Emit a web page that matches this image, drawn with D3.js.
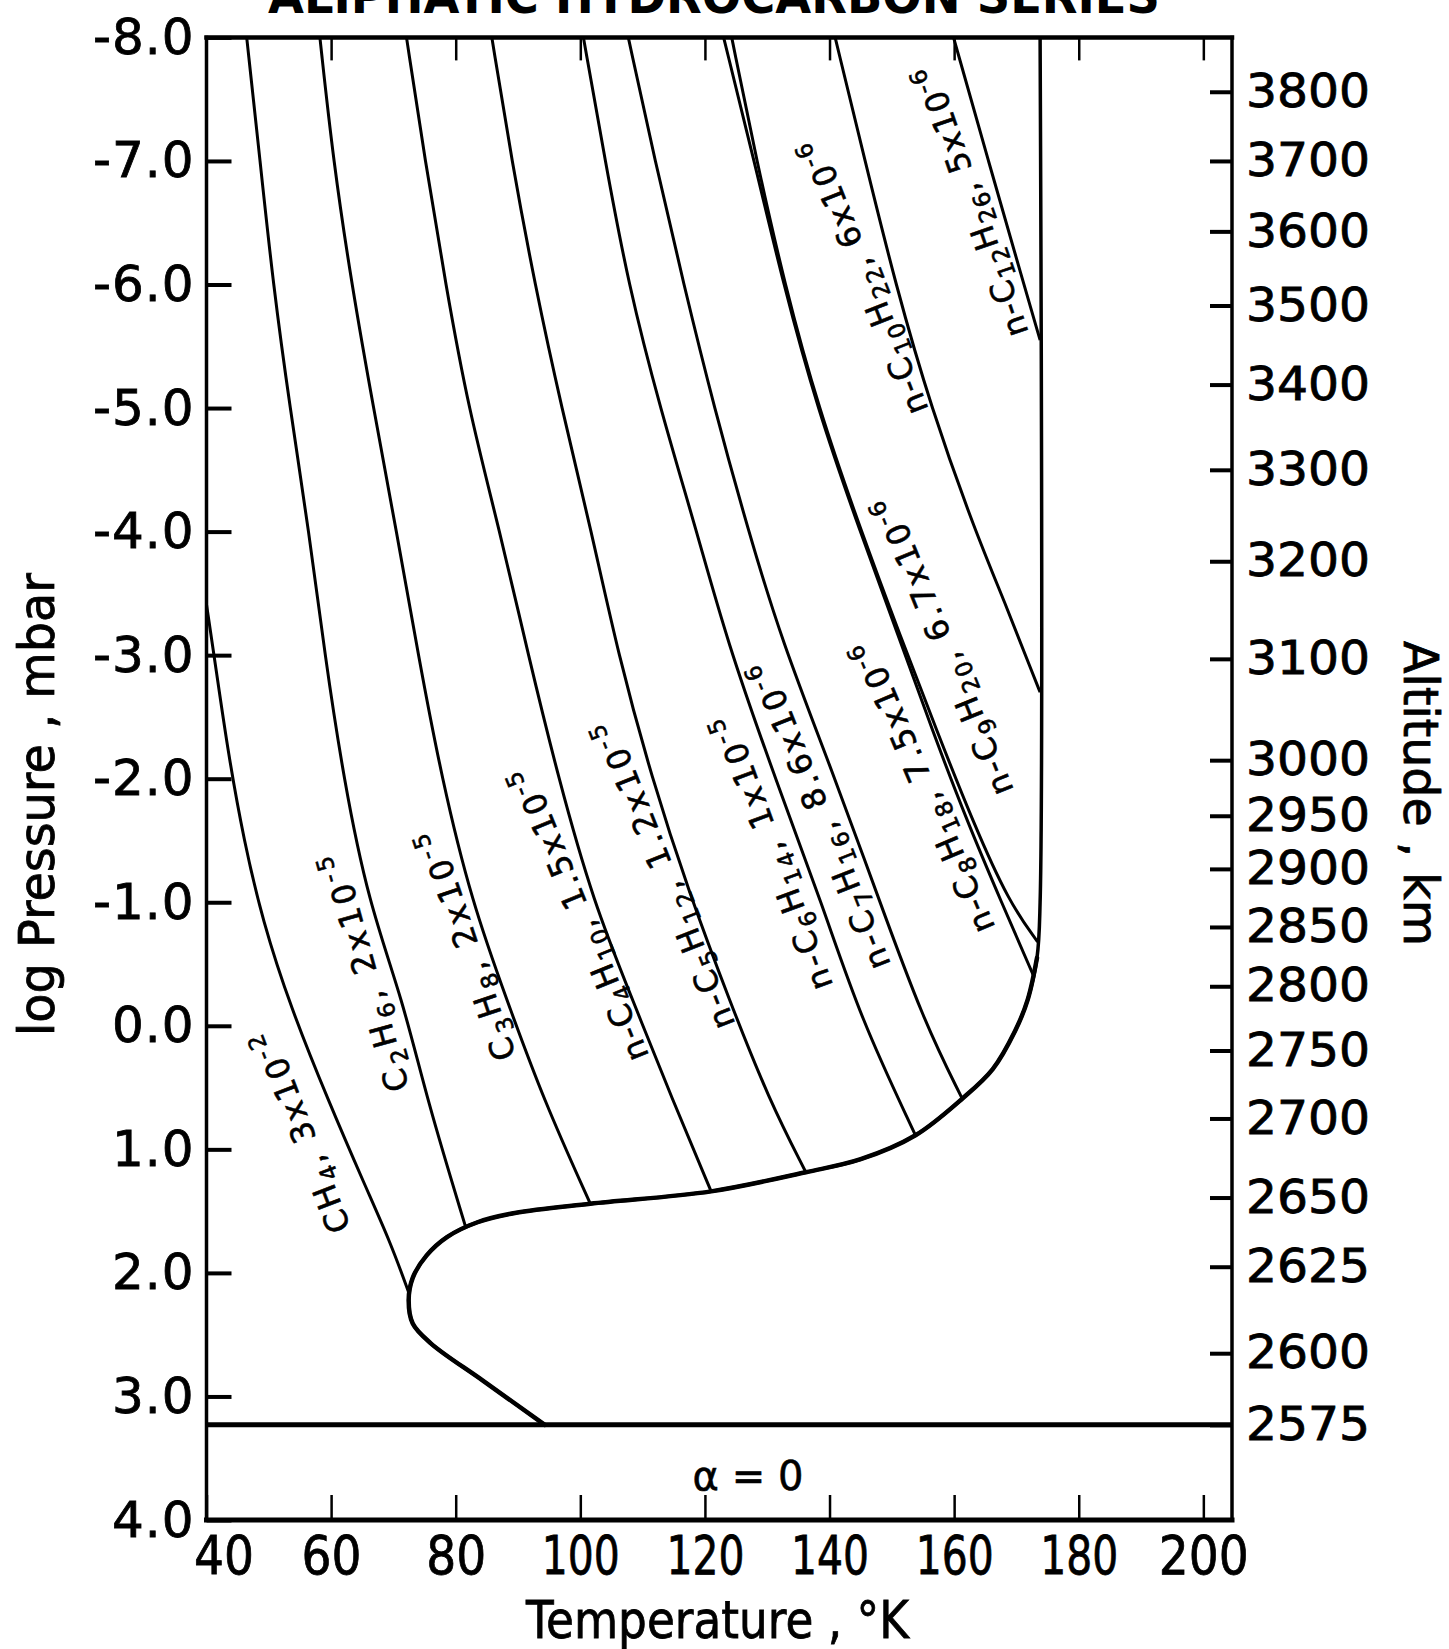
<!DOCTYPE html>
<html>
<head>
<meta charset="utf-8">
<script src="https://cdn.jsdelivr.net/npm/d3@7"></script>
<style>
  body { margin: 0; background: #fff; }
  svg { display: block; font-family: "DejaVu Sans", sans-serif; }
</style>
</head>
<body>
<div id="chart"></div>
<script>
// ---- values (T in K, log P in mbar) ----
var tempTicks = [40, 60, 80, 100, 120, 140, 160, 180, 200];
var logPTicks = [-8, -7, -6, -5, -4, -3, -2, -1, 0, 1, 2, 3, 4];
var altitudeKm   = [3800, 3700, 3600, 3500, 3400, 3300, 3200, 3100, 3000, 2950, 2900, 2850, 2800, 2750, 2700, 2650, 2625, 2600, 2575];
var altitudeLogP = [-7.56, -7.00, -6.43, -5.83, -5.19, -4.50, -3.76, -2.97, -2.15, -1.70, -1.27, -0.80, -0.32, 0.20, 0.75, 1.39, 1.95, 2.65, 3.23];
var surfaceLogP = 3.23;

// temperature profile (thick curve + vertical branch)
var profile = [[94.3,3.23],[84.3,2.87],[76.0,2.57],[73.1,2.41],[72.45,2.22],[73.1,2.04],[75.3,1.86],[78.6,1.71],
  [83.5,1.59],[89.5,1.515],[101.6,1.44],[121.0,1.34],[136.2,1.185],[145.0,1.08],[153.8,0.886],[161.3,0.59],
  [166.2,0.35],[169.8,0.04],[171.8,-0.21],[173.3,-0.55],[173.8,-1.0],[173.8,-8]];

// saturation curves
var curveCH4  = [[40,-3.41],[41.5,-2.9],[43.5,-2.2],[46.0,-1.5],[49.0,-0.85],[53.5,-0.15],[59.5,0.6],[65.5,1.3],[69.5,1.75],[72.4,2.15]];
var curveC2H6 = [[46.45,-8],[48.6,-7],[50.7,-6],[53.4,-5],[56.45,-4],[59.0,-3],[62.0,-2],[66.0,-1],[71.5,-0.21],[75.4,0.6],[81.6,1.63]];
var curveC3H8 = [[58.2,-8],[60.35,-7],[63.3,-6],[66.8,-5],[70.5,-4],[74.0,-3],[77.75,-2],[82.6,-1],[88.2,-0.21],[94.1,0.6],[101.6,1.44]];
var curveC4   = [[72.1,-8],[75.1,-7],[78.4,-6],[82.0,-5],[87.1,-4],[91.65,-3],[96.5,-2],[102.1,-1],[108.4,-0.21],[114.8,0.6],[121.0,1.34]];
var curveC5   = [[85.8,-8],[89.0,-7],[92.7,-6],[97.0,-5],[101.8,-4],[106.1,-3],[111.5,-2],[117.3,-1.1],[123.9,-0.21],[130.3,0.6],[136.2,1.185]];
var curveC6   = [[100.5,-8],[104.0,-7],[107.7,-6],[112.8,-5],[118.7,-4],[123.5,-3.12],[131.0,-2.04],[139.0,-0.96],[144.9,-0.07],[153.8,0.886]];
var curveC7   = [[107.7,-8],[112.0,-7],[116.6,-6],[121.5,-5],[127.0,-4],[132.3,-3.12],[140.6,-2.04],[147.6,-1.07],[155.0,-0.05],[161.3,0.59]];
var curveC8   = [[123.0,-8],[127.9,-7],[132.6,-6],[138.0,-5],[144.9,-4],[151.1,-3.15],[156.5,-2.39],[162.2,-1.64],[167.6,-1.0],[172.7,-0.41]];
var curveC9   = [[124.3,-8],[128.3,-7],[132.8,-6],[138.2,-5],[145.1,-4],[151.4,-3.15],[157.2,-2.39],[163.1,-1.64],[168.8,-1.0],[173.4,-0.68]];
var curveC10  = [[140.9,-8],[145.7,-7],[150.6,-6],[156.3,-5],[163.4,-4],[168.2,-3.42],[172.6,-2.85],[173.8,-2.70]];
var curveC12  = [[159.9,-8],[165.5,-7],[171.2,-6],[173.8,-5.55]];

var species   = ["CH4", "C2H6", "C3H8", "n-C4H10", "n-C5H12", "n-C6H14", "n-C7H16", "n-C8H18", "n-C9H20", "n-C10H22", "n-C12H26"];
var mantissa  = ["3", "2", "2", "1.5", "1.2", "1", "8.6", "7.5", "6.7", "6", "5"];
var exponent  = [-2, -5, -5, -5, -5, -5, -6, -6, -6, -6, -6];
var curves = [curveCH4, curveC2H6, curveC3H8, curveC4, curveC5, curveC6, curveC7, curveC8, curveC9, curveC10, curveC12];

// where each curve label sits (data coords), its angle and its length in px
var labelLayout = [
  {T: 55.3, P: 0.86, angle: -111, len: 214},
  {T: 65.5, P: -0.43, angle: -105.5, len: 246},
  {T: 81.8, P: -0.65, angle: -108.6, len: 241},
  {T: 99.9, P: -0.90, angle: -112, len: 314},
  {T: 113.5, P: -1.22, angle: -111.5, len: 329},
  {T: 130.9, P: -1.40, angle: -110, len: 290},
  {T: 138.5, P: -1.70, angle: -111.5, len: 328},
  {T: 155.1, P: -1.93, angle: -113, len: 314},
  {T: 158.3, P: -3.07, angle: -112, len: 319},
  {T: 145.6, P: -6.06, angle: -111.5, len: 293},
  {T: 162.8, P: -6.67, angle: -109, len: 284}
];

var width = 1449, height = 1649;
var svg = d3.select("#chart").append("svg").attr("width", width).attr("height", height);

var x = d3.scaleLinear().domain([40, 204.6]).range([206.5, 1232]);
var y = d3.scaleLinear().domain([-8, 4]).range([37.4, 1520]);
var altY = d3.scaleLinear().domain(altitudeKm).range(altitudeLogP.map(y));

var smooth = d3.line().x(d => x(d[0])).y(d => y(d[1])).curve(d3.curveBasis);
var through = d3.line().x(d => x(d[0])).y(d => y(d[1])).curve(d3.curveCatmullRom.alpha(0.5));

// title, cut by the top edge as in the scan
svg.append("text").attr("x", 268).attr("y", 13)
  .attr("font-size", 48).attr("font-weight", "bold")
  .attr("textLength", 892).attr("lengthAdjust", "spacingAndGlyphs")
  .text("ALIPHATIC HYDROCARBON SERIES");

// axes
var gBottom = svg.append("g").attr("transform", "translate(0," + y(4) + ")")
  .call(d3.axisBottom(x).tickValues(tempTicks).tickSize(-25).tickPadding(16).tickFormat(d3.format("d")));
gBottom.selectAll("text")
  .attr("x", d => d === 40 ? 17 : 0)
  .attr("font-size", 54)
  .attr("textLength", d => String(d).split("").reduce((s, c) => s + (c === "1" ? 18 : 30), 0))
  .attr("lengthAdjust", "spacingAndGlyphs");

var gTop = svg.append("g").attr("transform", "translate(0," + y(-8) + ")")
  .call(d3.axisTop(x).tickValues(tempTicks.slice(1)).tickSize(-23).tickFormat(""));

var gLeft = svg.append("g").attr("transform", "translate(" + x(40) + ",0)")
  .call(d3.axisLeft(y).tickValues(logPTicks).tickSize(-25).tickPadding(12).tickFormat(d => d.toFixed(1)));
gLeft.selectAll("text").attr("font-size", 50).attr("letter-spacing", 1);

var gRight = svg.append("g").attr("transform", "translate(" + x(204.6) + ",0)")
  .call(d3.axisRight(altY).tickValues(altitudeKm).tickSize(-22).tickPadding(14).tickFormat(d3.format("d")));
gRight.selectAll("text").attr("font-size", 46)
  .attr("textLength", 124).attr("lengthAdjust", "spacingAndGlyphs");

[gBottom, gTop, gLeft, gRight].forEach(function(g){
  g.select(".domain").remove();
  g.selectAll("text").attr("fill", "#000").attr("stroke", "#000").attr("stroke-width", 0.8)
    .attr("font-family", "DejaVu Sans, sans-serif");
  g.selectAll(".tick line").attr("stroke", "#000");
});
gBottom.selectAll(".tick line").attr("stroke-width", 2.5);
gTop.selectAll(".tick line").attr("stroke-width", 2.5);
gLeft.selectAll(".tick line").attr("stroke-width", 4);
gRight.selectAll(".tick line").attr("stroke-width", 4);

// frame
var x0 = x.range()[0], x1 = x.range()[1], y0 = y.range()[0], y1 = y.range()[1];
var frame = svg.append("g").attr("stroke", "#000").attr("stroke-linecap", "square");
frame.append("line").attr("x1", x0).attr("x2", x1).attr("y1", y0).attr("y2", y0).attr("stroke-width", 4.5);
frame.append("line").attr("x1", x0).attr("x2", x1).attr("y1", y1).attr("y2", y1).attr("stroke-width", 5);
frame.append("line").attr("x1", x0).attr("x2", x0).attr("y1", y0).attr("y2", y1).attr("stroke-width", 3.5);
frame.append("line").attr("x1", x1).attr("x2", x1).attr("y1", y0).attr("y2", y1).attr("stroke-width", 3.5);

// surface
svg.append("line").attr("x1", x0).attr("x2", x1)
  .attr("y1", y(surfaceLogP)).attr("y2", y(surfaceLogP))
  .attr("stroke", "#000").attr("stroke-width", 5);

svg.append("text").attr("x", 748).attr("y", 1490).attr("text-anchor", "middle")
  .attr("font-size", 40).attr("stroke", "#000").attr("stroke-width", 0.6).text("\u03b1 = 0");

// saturation curves
svg.append("g").selectAll("path").data(curves).join("path")
  .attr("d", smooth).attr("fill", "none").attr("stroke", "#000").attr("stroke-width", 3);

// temperature profile
svg.append("path").datum(profile).attr("d", through)
  .attr("fill", "none").attr("stroke", "#000").attr("stroke-width", 3.5);
svg.append("path").datum(profile.filter(d => d[1] > -0.6)).attr("d", through)
  .attr("fill", "none").attr("stroke", "#000").attr("stroke-width", 4.5).attr("stroke-linecap", "round");

// curve labels
var fs = 32;
species.forEach(function(name, i) {
  var L = labelLayout[i];
  var g = svg.append("g")
    .attr("transform", "translate(" + x(L.T) + "," + y(L.P) + ") rotate(" + L.angle + ")");
  var t = g.append("text").attr("x", 0).attr("y", fs * 0.36)
    .attr("text-anchor", "middle").attr("font-size", fs)
    .attr("stroke", "#000").attr("stroke-width", 0.6)
    .attr("textLength", L.len).attr("lengthAdjust", "spacing");
  var parts = name.split(/(\d+)/);
  var shifted = 0;
  parts.forEach(function(p, k) {
    if (!p) return;
    var ts = t.append("tspan").text(p);
    if (k % 2 === 1) { ts.attr("font-size", fs * 0.72).attr("dy", 7 - shifted); shifted = 7; }
    else if (shifted) { ts.attr("dy", -shifted); shifted = 0; }
  });
  t.append("tspan").attr("dy", -shifted).text(", " + mantissa[i] + "x10");
  t.append("tspan").attr("font-size", fs * 0.72).attr("dy", -13).text(String(exponent[i]));
});

// axis titles
svg.append("text").attr("x", 526).attr("y", 1638)
  .attr("font-size", 52).attr("stroke", "#000").attr("stroke-width", 0.8)
  .attr("textLength", 383).attr("lengthAdjust", "spacingAndGlyphs")
  .text("Temperature , \u00b0K");

svg.append("text").attr("transform", "translate(54,804.5) rotate(-90)")
  .attr("text-anchor", "middle").attr("font-size", 50).attr("stroke", "#000").attr("stroke-width", 0.8)
  .attr("textLength", 463).attr("lengthAdjust", "spacingAndGlyphs")
  .text("log Pressure , mbar");

svg.append("text").attr("transform", "translate(1404,793.5) rotate(90)")
  .attr("text-anchor", "middle").attr("font-size", 48).attr("stroke", "#000").attr("stroke-width", 0.8)
  .attr("textLength", 305).attr("lengthAdjust", "spacingAndGlyphs")
  .text("Altitude , km");
</script>
</body>
</html>
